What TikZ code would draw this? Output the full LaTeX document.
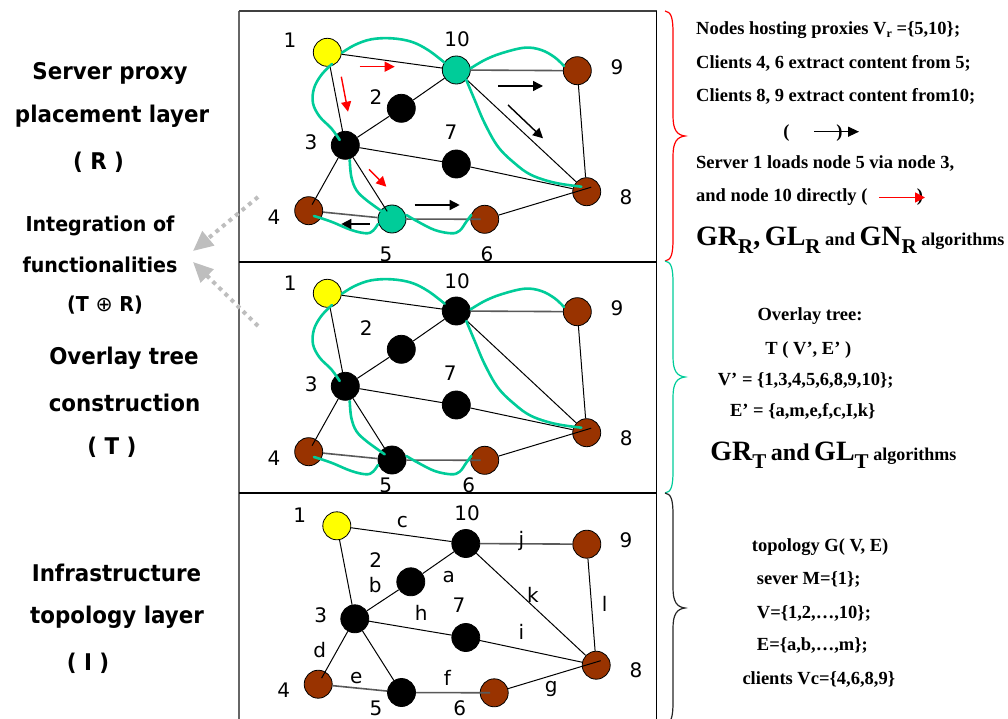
\documentclass[tikz,border=0pt]{standalone}
\usepackage{fontspec}
\setmainfont{Liberation Serif}
\newfontfamily\sanslbl[FakeStretch=0.93]{DejaVu Sans}
\newfontfamily\numfont{DejaVu Sans}
\newfontfamily\opfont{DejaVu Sans}
\newfontfamily\tms{Liberation Serif}
\usetikzlibrary{arrows.meta}
\definecolor{tgreen}{RGB}{0,204,153}
\definecolor{brn}{RGB}{153,51,0}
\definecolor{yel}{RGB}{255,255,0}
\definecolor{dgray}{RGB}{190,190,190}
\newcommand\bigt[1]{{\fontsize{28}{28}\selectfont #1}}
\newcommand\subt[1]{\raisebox{-8pt}{\fontsize{21}{21}\selectfont #1}}
\newcommand\drawgraph[2]{%
  \node[vtx,fill=yel]   (n1)  at (327.3,52.3)  {};
  \node[vtx,fill=#1]    (n10) at (456.3,70)    {};
  \node[vtx,fill=brn]   (n9)  at (577.3,70.7)  {};
  \node[vtx,fill=black] (n2)  at (401.3,108.3) {};
  \node[vtx,fill=black] (n3)  at (345.3,145.3) {};
  \node[vtx,fill=black] (n7)  at (456.3,164)   {};
  \node[vtx,fill=brn]   (n8)  at (586.7,191.7) {};
  \node[vtx,fill=brn]   (n4)  at (308.7,210.7) {};
  \node[vtx,fill=#2]    (n5)  at (392,219)     {};
  \node[vtx,fill=brn]   (n6)  at (484.7,219.3) {};
  \draw[edge] (n1) -- (n10);
  \draw[edge] (n1) -- (n3);
  \draw[edge] (n10) -- (n2);
  \draw[edge] (n2) -- (n3);
  \draw[edge] (n3) -- (n7);
  \draw[edge] (n7) -- (n8);
  \draw[edge] (n10) -- (n8);
  \draw[edge] (n9) -- (n8);
  \draw[gedge] (n10) -- (n9);
  \draw[gedge] (n4) -- (n5);
  \draw[gedge,shorten >=4pt] (n5) -- (n6.center);
  \draw[edge,shorten >=7pt] (n3) -- (n4.center);
  \draw[edge,shorten >=9pt] (n3) -- (n5.center);
  \draw[edge] (n6) -- ([shift={(4.5,-4.5)}]n8.center);
}
\newcommand\drawtree{%
  \draw[tree] plot[smooth,tension=0.6] coordinates {(342,52.7) (354.7,45) (371.3,39.3) (391.3,38.3) (411.3,41.7) (428,50) (444.7,62.7)};
  \draw[tree] plot[smooth,tension=0.6] coordinates {(332,64) (321.3,75) (314,88.3) (313,103.3) (319.7,116.7) (331.3,128.3) (339.7,140)};
  \draw[tree] plot[smooth,tension=0.6] coordinates {(470.7,68.3) (484.7,60) (501.3,53.3) (524.7,47.7) (541.3,50) (554.7,57.3) (564,66)};
  \draw[tree] plot[smooth,tension=0.6] coordinates {(466.3,80) (474.7,100) (484.7,123.3) (498,146.7) (514.7,163.3) (531.3,175) (554.7,182.7) (581.3,186.7)};
  \draw[tree] plot[smooth,tension=0.6] coordinates {(349.7,160) (351.3,176.7) (356.3,190) (366.3,200) (384.7,213.3)};
  \draw[tree] plot[smooth,tension=0.6] coordinates {(314,216) (331.3,221.7) (351.3,230) (366.3,233.3) (373,230.7) (378,224)};
  \draw[tree] plot[smooth,tension=0.6] coordinates {(406.3,215) (418,221.7) (434.7,230) (451.3,233.3) (459.7,230.7) (466.3,221.7) (471.3,215)};
}
\newcommand\bracepath[4]{%
  \draw[line width=1.2pt,#4] (665,#1) .. controls (671,#1+1) and (673,#1+6) .. (673,#1+22)
    -- (673,#2-20) .. controls (673,#2-6) and (677,#2-1) .. (685,#2)
    .. controls (677,#2+1) and (673,#2+6) .. (673,#2+20)
    -- (673,#3-22) .. controls (673,#3-6) and (671,#3-1) .. (665,#3);
}
\begin{document}
\begin{tikzpicture}[x=1pt,y=-1pt,
  vtx/.style={circle,draw=black,line width=0.8pt,minimum size=28pt,inner sep=0pt},
  edge/.style={line width=1pt,draw=black},
  gedge/.style={line width=1.6pt,draw=black!65},
  tree/.style={line width=2.6pt,draw=tgreen,line cap=round},
  num/.style={font=\numfont\fontsize{20}{20}\selectfont,inner sep=0pt},
  lay/.style={font=\sanslbl\bfseries\fontsize{23}{26}\selectfont,inner sep=0pt},
  lay2/.style={font=\sanslbl\bfseries\fontsize{20.5}{24}\selectfont,inner sep=0pt},
  rtxt/.style={font=\tms\bfseries\fontsize{18.5}{20}\selectfont,inner sep=0pt},
  redarr/.style={draw=red,line width=1.4pt,-{Triangle[length=10pt,width=10pt]}},
  blkarr/.style={draw=black,line width=1.4pt,-{Triangle[length=10pt,width=10pt]}},
  dotarr/.style={draw=dgray,line width=4pt,dash pattern=on 4pt off 4.5pt,-{Triangle[length=20pt,width=18pt]}},
  frame/.style={line width=1.5pt}]
\useasboundingbox (0,0) rectangle (1008,719);

% frame
\draw[frame,draw=black!60] (239,11) -- (239,725);
\draw[frame,draw=black!75] (239,11) -- (657,11);
\draw[frame] (656.7,11) -- (656.7,725);
\draw[frame] (239,262) -- (656.7,262);
\draw[frame] (239,493) -- (656.7,493);

% top panel
\begin{scope}[name prefix=R-]
  \drawgraph{tgreen}{tgreen}
  \drawtree
\end{scope}
% middle panel
\begin{scope}[shift={(0,241)},name prefix=T-]
  \drawgraph{black}{black}
  \drawtree
\end{scope}
% bottom panel
\begin{scope}[shift={(9.5,473.5)},name prefix=I-]
  \drawgraph{black}{black}
\end{scope}

% arrows in top panel
\draw[redarr] (359.7,66.7) -- (394.7,66.7);
\draw[redarr] (341.3,76.7) -- (348,111.7);
\draw[redarr] (369,169.3) -- (386.3,186.7);
\draw[blkarr] (498,86) -- (543,86);
\draw[blkarr] (508,105) -- (543,138.3);
\draw[blkarr] (414.7,205) -- (459.7,205);
\draw[blkarr] (369.7,224) -- (341.3,224);

% numbers top
\node[num] (rl1) at (290,40) {1};
\node[num] (rl10) at (457,39) {10};
\node[num] (rl9) at (617,67) {9};
\node[num] (rl2) at (376,97) {2};
\node[num] (rl3) at (311,142) {3};
\node[num] (rl7) at (451,132) {7};
\node[num] (rl8) at (626,197) {8};
\node[num] (rl4) at (274,217) {4};
\node[num] (rl5) at (386,254) {5};
\node[num] (rl6) at (487,254) {6};
% numbers middle
\node[num] (tl1) at (290.3,283.3) {1};
\node[num] (tl10) at (457,281.7) {10};
\node[num] (tl9) at (617,308.3) {9};
\node[num] (tl2) at (366.3,328.3) {2};
\node[num] (tl3) at (311.3,384) {3};
\node[num] (tl7) at (450.3,373.3) {7};
\node[num] (tl8) at (626.3,438.3) {8};
\node[num] (tl4) at (274,458.3) {4};
\node[num] (tl5) at (385.7,485) {5};
\node[num] (tl6) at (468.7,485) {6};
% numbers bottom
\node[num] (il1) at (299.7,515) {1};
\node[num] (il10) at (467,513) {10};
\node[num] (il9) at (626,540.7) {9};
\node[num] (il2) at (375.7,560) {2};
\node[num] (il3) at (320.7,615) {3};
\node[num] (il7) at (459,605) {7};
\node[num] (il8) at (636,670) {8};
\node[num] (il4) at (283.7,690) {4};
\node[num] (il5) at (376,708) {5};
\node[num] (il6) at (459.7,708) {6};
% edge labels bottom
\node[num] (ec) at (402.3,521.7) {c};
\node[num] (ej) at (521.3,540.7) {j};
\node[num] (ea) at (448.7,577.3) {a};
\node[num] (eb) at (375.3,585) {b};
\node[num] (ek) at (533,595) {k};
\node[num] (el) at (604.7,604) {l};
\node[num] (eh) at (421.3,613.3) {h};
\node[num] (ei) at (521.3,631.7) {i};
\node[num] (ed) at (319.7,650) {d};
\node[num] (ee) at (356.3,678.3) {e};
\node[num] (ef) at (447.3,677.7) {f};
\node[num] (eg) at (551.3,689.3) {g};

% left labels
\node[lay] (L1) at (110,73) {Server proxy};
\node[lay] (L2) at (112,116) {placement layer};
\node[lay] (L3) at (98.5,162) {( R )};
\node[lay2] (L4) at (100,226) {Integration of};
\node[lay2] (L5) at (100,265) {functionalities};
\node[lay2] (L6) at (105,305) {(T {\opfont\mdseries ⊕} R)};
\node[lay] (L7) at (124,358) {Overlay tree};
\node[lay] (L8) at (124.5,403) {construction};
\node[lay] (L9) at (112,447) {( T )};
\node[lay] (L10) at (116.5,573) {Infrastructure};
\node[lay] (L11) at (117,617) {topology layer};
\node[lay] (L12) at (88,663) {( I )};

% dotted arrows
\draw[dotarr] (258,197) -- (193,251);
\draw[dotarr] (258,326) -- (193,262);

% braces
\bracepath{11}{136}{261}{red}
\bracepath{261}{377}{493}{tgreen}
\bracepath{493}{608}{724}{black!85}

% right text top
\node[rtxt,anchor=base west] (r1) at (696,34.3) {Nodes hosting proxies V\raisebox{-3pt}{\fontsize{12}{12}\selectfont r} =\{5,10\};};
\node[rtxt,anchor=base west] (r2) at (696,68.3) {Clients 4, 6 extract content from 5;};
\node[rtxt,anchor=base west] (r3) at (696,101.7) {Clients 8, 9 extract content from10;};
\node[rtxt,anchor=base] (r4a) at (786.5,137.5) {(};
\draw[draw=black,line width=1.3pt,-{Triangle[length=11pt,width=10pt]}] (814,131.7) -- (859,131.7);
\node[rtxt,anchor=base] (r4b) at (839.5,137.5) {)};
\node[rtxt,anchor=base west] (r5) at (696,168.3) {Server 1 loads node 5 via node 3,};
\node[rtxt,anchor=base west] (r6) at (696,201.7) {and node 10 directly (};
\node[rtxt,anchor=base] (r6b) at (920,201.7) {)};
\draw[redarr] (879,197.5) -- (925,197.5);
\node[rtxt,anchor=base west] (r7) at (696,245) {\bigt{GR}\subt{R}\bigt{,} \bigt{GL}\subt{R} and \bigt{GN}\subt{R} {\fontsize{18}{18}\selectfont algorithms}};

% right text middle
\node[rtxt,anchor=base] (m1) at (810,320) {Overlay tree:};
\node[rtxt,anchor=base] (m2) at (808.3,354) {T ( V’, E’ )};
\node[rtxt,anchor=base] (m3) at (805.7,385) {V’ = \{1,3,4,5,6,8,9,10\};};
\node[rtxt,anchor=base] (m4) at (802.7,416.7) {E’ = \{a,m,e,f,c,I,k\}};
\node[rtxt,anchor=base] (m5) at (833.3,460) {\bigt{GR}\subt{T} {\fontsize{24}{24}\selectfont and} \bigt{GL}\subt{T} {\fontsize{18}{18}\selectfont algorithms}};

% right text bottom
\node[rtxt,anchor=base west] (b1) at (751.7,551.5) {topology G( V, E)};
\node[rtxt,anchor=base west] (b2) at (756.7,584) {sever M=\{1\};};
\node[rtxt,anchor=base west] (b3) at (756.7,618) {V=\{1,2,…,10\};};
\node[rtxt,anchor=base west] (b4) at (756.7,650) {E=\{a,b,…,m\};};
\node[rtxt,anchor=base west] (b5) at (742.3,684) {clients Vc=\{4,6,8,9\}};
\end{tikzpicture}
\end{document}
